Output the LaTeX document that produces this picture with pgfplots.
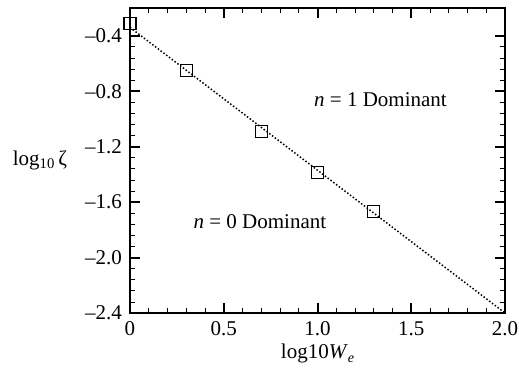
\documentclass[border=0pt]{standalone}
\usepackage{fontspec}
\setmainfont{Liberation Serif}
\usepackage{pgfplots}
\pgfplotsset{compat=1.18}
\begin{document}
\fontsize{21}{25}\selectfont
\begin{tikzpicture}
\begin{axis}[
  width=375pt, height=305pt, scale only axis,
  xmin=0, xmax=2, ymin=-2.4, ymax=-0.2,
  xtick={0,0.5,1,1.5,2},
  xticklabels={0,0.5,1.0,1.5,2.0},
  ytick={-2.4,-2.0,-1.6,-1.2,-0.8,-0.4},
  yticklabels={\textendash2.4,\textendash2.0,\textendash1.6,\textendash1.2,\textendash0.8,\textendash0.4},
  minor x tick num=4, minor y tick num=4,
  tick align=inside,
  major tick length=10pt, minor tick length=5pt,
  major tick style={black, line width=2pt},
  minor tick style={black, line width=0.8pt},
  axis line style={line width=2pt},
  tick label style={font=\fontsize{21}{25}\selectfont},
  xticklabel style={yshift=-1pt},
  yticklabel style={xshift=-1pt},
  clip=false,
]
\addplot[black, dotted, line width=1.5pt] coordinates {(0,-0.34) (2,-2.4)};
\addplot[only marks, mark=square, mark size=6pt, mark options={black, line width=1.4pt, fill=none}] coordinates {
 (0,-0.311) (0.3,-0.651) (0.7,-1.092) (1.0,-1.388) (1.3,-1.670)};
\node[font=\fontsize{21}{25}\selectfont] at (axis cs:1.336,-0.861) {\textit{n} = 1 Dominant};
\node[font=\fontsize{21}{25}\selectfont] at (axis cs:0.693,-1.743) {\textit{n} = 0 Dominant};
\node[font=\fontsize{21}{25}\selectfont] at ([xshift=-90pt]rel axis cs:0,0.5) {log\textsubscript{10}\,ζ};
\node[font=\fontsize{21}{25}\selectfont] at ([yshift=-40pt]rel axis cs:0.5,0) {log10\textit{W}\raisebox{-0.45ex}{\fontsize{14}{14}\selectfont\textit{e}}};
\end{axis}
\pgfresetboundingbox
\path ([xshift=-130pt,yshift=-58pt]current axis.south west) rectangle ([xshift=14pt,yshift=8pt]current axis.north east);
\end{tikzpicture}
\end{document}
